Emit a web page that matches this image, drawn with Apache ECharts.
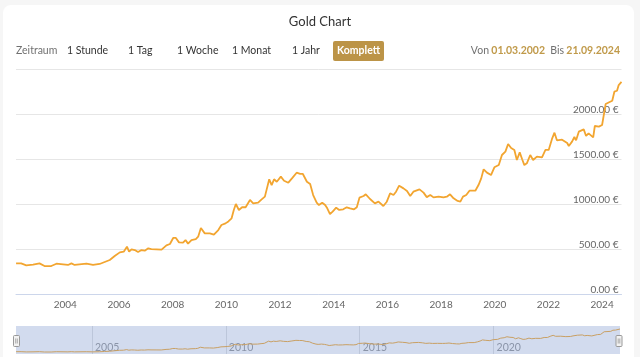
<!DOCTYPE html>
<html>
<head>
<meta charset="utf-8">
<script src="https://cdn.jsdelivr.net/npm/echarts@6/dist/echarts.min.js"></script>
<style>
html,body{margin:0;padding:0;background:#f6f6f6;}
#c{width:640px;height:357px;}
</style>
</head>
<body>
<div id="c"></div>
<script>
const dates = [
'2002-03-02','2002-05-10','2002-07-19','2002-10-19','2003-01-15','2003-03-24','2003-06-24','2003-09-02','2003-12-02',
'2004-02-07','2004-03-24','2004-05-07','2004-10-15','2005-01-12','2005-04-12','2005-06-20','2005-08-28','2005-11-03',
'2006-01-12','2006-03-06','2006-04-19','2006-05-18','2006-06-20','2006-08-03','2006-09-17','2006-11-03','2006-12-17',
'2007-02-03','2007-03-17','2007-05-25','2007-08-03','2007-10-08','2007-11-25','2008-01-08','2008-02-14','2008-03-27',
'2008-05-21','2008-06-24','2008-07-28','2008-09-13','2008-11-11','2008-12-13','2009-01-19','2009-03-13','2009-05-21',
'2009-07-15','2009-09-13','2009-10-26','2009-12-20','2010-01-28','2010-03-13','2010-04-12','2010-05-10','2010-06-20',
'2010-08-03','2010-09-20','2010-11-18','2011-01-01','2011-03-09','2011-04-26','2011-06-09','2011-08-07','2011-09-09',
'2011-10-12','2011-11-18','2012-01-12','2012-02-25','2012-04-23','2012-06-20','2012-08-14','2012-10-01','2012-11-07',
'2013-01-01','2013-02-14','2013-03-27','2013-05-14','2013-06-13','2013-07-28','2013-09-06','2013-10-05','2013-11-11',
'2013-12-17','2014-02-03','2014-03-17','2014-05-10','2014-06-27','2014-08-11','2014-10-05','2014-11-11','2014-12-17',
'2015-02-11','2015-03-13','2015-05-10','2015-07-15','2015-09-02','2015-11-07','2015-12-24','2016-02-07','2016-03-24',
'2016-04-28','2016-06-09','2016-08-07','2016-09-24','2016-11-07','2016-12-20','2017-03-13','2017-05-07','2017-06-20',
'2017-08-07','2017-09-20','2017-11-28','2018-02-03','2018-03-20','2018-05-03','2018-06-20','2018-08-14','2018-09-20',
'2018-10-26','2018-12-09','2019-01-22','2019-04-12','2019-05-25','2019-07-01','2019-08-03','2019-09-17','2019-11-11',
'2019-12-27','2020-02-25','2020-04-08','2020-05-25','2020-07-01','2020-08-11','2020-09-24','2020-10-28','2020-12-06',
'2021-01-08','2021-02-07','2021-03-13','2021-04-28','2021-06-06','2021-07-28','2021-10-05','2021-11-21','2022-01-04',
'2022-02-21','2022-03-24','2022-04-26','2022-07-05','2022-09-13','2022-10-05','2022-11-18','2022-12-20','2023-01-12',
'2023-02-18','2023-03-13','2023-04-26','2023-05-28','2023-07-01','2023-07-28','2023-09-02','2023-09-24','2023-11-18',
'2024-01-01','2024-01-26','2024-02-18','2024-03-09','2024-05-18','2024-06-16','2024-07-22','2024-08-14','2024-09-21'
];
const prices = [
344,344,322,329,344,314,314,340,333,
326,344,326,340,326,337,359,381,425,
466,474,529,474,500,492,470,492,485,
511,503,500,496,544,559,626,626,577,
574,603,563,603,614,640,737,677,677,
663,714,770,788,810,844,937,1003,937,
967,967,1048,1011,1018,1055,1085,1278,1214,
1278,1251,1307,1262,1240,1296,1351,1337,1337,
1251,1225,1103,1018,992,1018,992,955,892,
918,962,937,944,967,955,944,967,1074,
1092,1111,1059,1011,1029,981,1029,1122,1103,
1140,1207,1177,1148,1092,1140,1166,1130,1080,
1103,1077,1085,1077,1085,1111,1066,1037,1029,
1085,1103,1151,1151,1214,1288,1389,1352,1325,
1411,1436,1548,1585,1670,1626,1604,1492,1577,
1500,1436,1455,1548,1492,1529,1522,1604,1604,
1733,1796,1711,1718,1681,1648,1696,1748,1711,
1807,1788,1833,1759,1788,1788,1744,1870,1863,
1881,1900,2114,2133,2151,2251,2262,2325,2360
];
const xTickYears = [2004,2006,2008,2010,2012,2014,2016,2018,2020,2022,2024];
const navTickYears = [2005,2010,2015,2020];
const rangeStart = '2002-03-01';
const rangeEnd = '2024-09-21';
const periodButtons = ['1 Stunde','1 Tag','1 Woche','1 Monat','1 Jahr'];
const buttonX = [67,128,177,232,292];

const FONT = 'Lato, "Noto Sans", sans-serif';
const yearTs = y => Date.UTC(y, 0, 1);
const seriesData = dates.map((d, i) => [Date.parse(d), prices[i]]);
const fmtDate = s => { const p = s.split('-'); return p[2] + '.' + p[1] + '.' + p[0]; };
const yearFmt = v => String(new Date(v).getUTCFullYear());

const chart = echarts.init(document.getElementById('c'), null, {renderer: 'canvas'});

function handle(x) {
  return {type:'group', x:x, y:341, z:100, children:[
    {type:'rect', shape:{x:-3, y:-5.5, width:6, height:11, r:1}, style:{fill:'#f2f2f2', stroke:'#999999', lineWidth:1}},
    {type:'line', shape:{x1:-0.8, y1:-2.5, x2:-0.8, y2:2.5}, style:{stroke:'#999999', lineWidth:0.8}},
    {type:'line', shape:{x1:0.8, y1:-2.5, x2:0.8, y2:2.5}, style:{stroke:'#999999', lineWidth:0.8}}
  ]};
}
const ui = (x, text, fill, weight, align) => ({
  type:'text', x:x, y:51,
  style:{text:text, fill:fill, font:(weight || '') + ' 10.5px ' + FONT, textAlign:align || 'left', textVerticalAlign:'middle'}
});

const graphics = [
  {type:'rect', z:-10, shape:{x:3, y:5, width:631, height:360, r:8}, style:{fill:'#ffffff'}, silent:true},
  ui(16, 'Zeitraum', '#707070'),
  {type:'rect', shape:{x:333, y:41, width:51, height:20, r:2}, style:{fill:'#bc9447'}},
  ui(358.5, 'Komplett', '#ffffff', 'bold', 'center'),
  ui(489, 'Von', '#707070', '', 'right'),
  ui(545, fmtDate(rangeStart), '#c09a4a', 'bold', 'right'),
  ui(564, 'Bis', '#707070', '', 'right'),
  ui(620, fmtDate(rangeEnd), '#c09a4a', 'bold', 'right'),
  handle(16.5),
  handle(619)
];
periodButtons.forEach((t, i) => graphics.push(ui(buttonX[i], t, '#333333')));

const option = {
  backgroundColor: '#f6f6f6',
  animation: false,
  textStyle: {fontFamily: FONT},
  title: {
    text: 'Gold Chart', left: 'center', top: 10,
    textStyle: {fontSize: 13, fontWeight: 'normal', color: '#333333', fontFamily: FONT}
  },
  graphic: graphics,
  grid: [
    {left: 16, top: 69.3, width: 605.5, height: 225, containLabel: false},
    {left: 16, top: 326, width: 604, height: 28, show: true, backgroundColor: '#d2dbee', borderWidth: 0}
  ],
  xAxis: [
    {
      type: 'value', gridIndex: 0, min: Date.parse(rangeStart), max: Date.parse(rangeEnd),
      axisLine: {show: true, onZero: false, lineStyle: {color: '#ccd6eb', width: 1}},
      axisTick: {show: false, customValues: xTickYears.map(yearTs)},
      splitLine: {show: false},
      axisLabel: {
        customValues: xTickYears.map(yearTs),
        formatter: yearFmt,
        color: '#666666', fontSize: 10, margin: 5, fontFamily: FONT
      }
    },
    {
      type: 'value', gridIndex: 1, min: Date.parse(rangeStart), max: Date.parse(rangeEnd),
      axisLine: {show: false},
      axisTick: {show: false, customValues: navTickYears.map(yearTs)},
      splitLine: {show: true, lineStyle: {color: '#bcc6da', width: 1}},
      axisLabel: {
        inside: true,
        customValues: navTickYears.map(yearTs),
        formatter: yearFmt,
        color: '#8a94a8', fontSize: 10.5, margin: 1, align: 'left', padding: [0, 0, 0, 3], fontFamily: FONT
      }
    }
  ],
  yAxis: [
    {
      type: 'value', gridIndex: 0, position: 'right', min: 0, max: 2500, interval: 500,
      axisLine: {show: false}, axisTick: {show: false},
      splitLine: {show: true, lineStyle: {color: '#e6e6e6', width: 1}},
      axisLabel: {
        inside: true, showMaxLabel: false, verticalAlign: 'bottom', margin: 3,
        formatter: v => v.toFixed(2) + ' €',
        color: '#666666', fontSize: 10, fontFamily: FONT
      }
    },
    {
      type: 'value', gridIndex: 1, show: false,
      min: v => v.min - (v.max - v.min) * 2 / 23,
      max: v => v.max + (v.max - v.min) * 3 / 23,
      splitLine: {show: false}
    }
  ],
  series: [
    {
      type: 'line', xAxisIndex: 0, yAxisIndex: 0, data: seriesData,
      showSymbol: false, smooth: false,
      lineStyle: {color: '#f2a530', width: 1.8}, itemStyle: {color: '#f2a530'}
    },
    {
      type: 'line', xAxisIndex: 1, yAxisIndex: 1, data: seriesData,
      showSymbol: false, smooth: false,
      lineStyle: {color: '#c9a064', width: 1}, itemStyle: {color: '#c9a064'}
    }
  ]
};
chart.setOption(option);
</script>
</body>
</html>
